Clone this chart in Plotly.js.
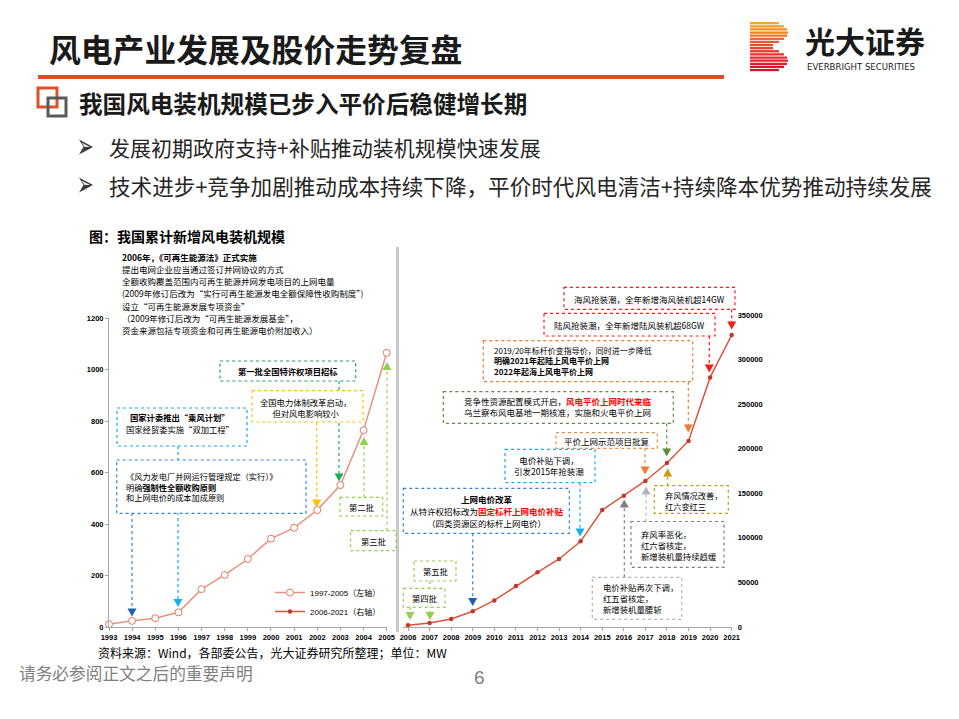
<!DOCTYPE html>
<html><head><meta charset="utf-8">
<script src="https://cdn.plot.ly/plotly-3.0.1.min.js"></script>
<style>html,body{margin:0;padding:0;background:#fff;}#chart{width:959px;height:719px;}</style>
</head><body><div id="chart"></div>
<script>
// ---- data ----
const yearsEarly = [1993,1994,1995,1996,1997,1998,1999,2000,2001,2002,2003,2004,2005];
const capEarly   = [12,25,35,58,148,203,265,344,386,455,552,765,1065];
const yearsLate  = [2006,2007,2008,2009,2010,2011,2012,2013,2014,2015,2016,2017,2018,2019,2020,2021];
const capLate    = [2000,4500,9000,17600,29800,46000,61400,76300,96100,131300,147300,163800,184000,208700,280000,327600];
const seriesNames = ['1997-2005（左轴）','2006-2021（右轴）'];
const leftTicks  = [0,200,400,600,800,1000,1200];
const rightTicks = [0,50000,100000,150000,200000,250000,300000,350000];

const W = 959, H = 719;
const CJK = '"Noto Sans CJK SC", "Noto Sans", sans-serif';
const NUM = '"Liberation Sans", Arial, sans-serif';
const COND = '"Liberation Sans Narrow", "DejaVu Sans Condensed", "Liberation Sans", sans-serif';
const X = v => v / W, Y = v => 1 - v / H;

const ann = [], shp = [];
function T(x, y, text, o) {
  o = o || {};
  ann.push({xref:'paper', yref:'paper', x:X(x), y:Y(y), text:text, showarrow:false,
    xanchor:o.xa || 'left', yanchor:'middle', align:o.xa === 'center' ? 'center' : 'left', borderpad:0,
    font:{family:o.f || CJK, size:o.s || 8.5, color:o.c || '#000', weight:o.w || 'normal'}});
}
function block(x, y, arr, o) { T(x, y, arr.join('<br>'), o); }
function lines(x, y0, dy, arr, o) { arr.forEach((t, i) => T(x, y0 + i * dy, t, o)); }
function rect(x0, y0, x1, y1, line, fill) {
  shp.push({type:'rect', xref:'paper', yref:'paper', x0:X(x0), x1:X(x1), y0:Y(y0), y1:Y(y1),
    line:line, fillcolor:fill, layer:'above'});
}
function poly(pts, fill, line) {
  shp.push({type:'path', xref:'paper', yref:'paper', layer:'above',
    path:'M' + pts.map(p => X(p[0]) + ',' + Y(p[1])).join(' L') + ' Z', fillcolor:fill, line:line || {width:0}});
}
function box(x0, y0, x1, y1, c) { rect(x0, y0, x1, y1, {color:c, width:1.2, dash:'dot'}, '#fff'); }
function link(x, y0, y1, c) {
  shp.push({type:'line', xref:'paper', yref:'paper', x0:X(x), x1:X(x), y0:Y(y0), y1:Y(y1),
    line:{color:c, width:1.2, dash:'dot'}, layer:'above'});
}
function tri(x, tip, dir, c) {
  const h = 8, w = 4.5, b = dir === 'down' ? tip - h : tip + h;
  poly([[x - w, b], [x + w, b], [x, tip]], c);
}
function arrow(x, y0, tip, c, ac) {
  const dir = tip > y0 ? 'down' : 'up';
  link(x, y0, dir === 'down' ? tip - 7 : tip + 7, c);
  tri(x, tip, dir, ac || c);
}
function bulletMark(y) {
  poly([[79, y - 7.5], [93, y], [79, y + 7.5], [83.5, y]], '#3a3a3a');
  poly([[81.5, y - 4.5], [90, y], [84.5, y]], '#e8e8e8');
}

// ---- colours ----
const LBLUE = '#12AEEF', BLUE = '#2E86D6', DBLUE = '#1F5FAF', GREEN = '#1FAA55', LGREEN = '#92D050',
      YEL = '#FFC000', ORA = '#ED7D31', RED = '#FF1A1A', DGREEN = '#5E8E3C', GOLD = '#C99A12',
      GRAY = '#7F7F7F', LGRAY = '#B5B5B5';

// ---- header ----
shp.push({type:'line', xref:'paper', yref:'paper', x0:X(38), x1:X(724), y0:Y(77), y1:Y(77), line:{color:'#D6502B', width:4}});
rect(38, 88, 57, 107, {color:'#E0502A', width:3}, 'rgba(0,0,0,0)');
rect(48, 98, 66, 116, {color:'#5A5A5A', width:3}, 'rgba(0,0,0,0)');
const stripeEnds = [779,784,787,788,787,784,779,773,773,779,784,787,788,787,784,779];
const stripeCols = ['#F9A61E','#F89A1F','#F78D20','#F68022','#F47424','#F26626','#F05A28','#EE4E2A','#EC432B','#EA392C','#E8302D','#E6282D','#E4212D','#E21B2C','#E0162B','#DE122A'];
stripeEnds.forEach((e, i) => {
  const y0 = 22 + i * 3.125;
  rect(750, y0, e, y0 + 2.3, {width:0}, stripeCols[i]);
});
T(48, 48, '风电产业发展及股价走势复盘', {s:31.8, w:'bold', c:'#1a1a1a'});
T(804, 40.5, '光大证券', {s:30, w:'bold', c:'#1a1a1a'});
T(806, 67, 'EVERBRIGHT SECURITIES', {f:COND, s:9.5, c:'#1a1a1a'});
T(78, 103, '我国风电装机规模已步入平价后稳健增长期', {s:23.6, w:'bold', c:'#1a1a1a'});
bulletMark(147);
T(108, 147, '发展初期政府支持+补贴推动装机规模快速发展', {s:21, c:'#262626'});
bulletMark(185);
T(108, 185, '技术进步+竞争加剧推动成本持续下降，平价时代风电清洁+持续降本优势推动持续发展', {s:21.6, c:'#262626'});
T(88, 236, '图：我国累计新增风电装机规模', {s:14, w:'bold'});
T(97, 652.7, '资料来源：Wind，各部委公告，光大证券研究所整理；单位：MW', {s:12});
T(18, 673, '请务必参阅正文之后的重要声明', {s:16.7, c:'#808080'});
T(479, 677, '6', {xa:'center', s:19, c:'#808080', f:NUM});

rect(396, 247, 399, 632, {width:0}, '#C9C9C9');

// ---- left panel notes ----
lines(120.7, 256.7, 12.2, [
  '<b>2006年，《可再生能源法》正式实施</b>',
  '提出电网企业应当通过签订并网协议的方式',
  '全额收购覆盖范围内可再生能源并网发电项目的上网电量',
  '(2009年修订后改为“实行可再生能源发电全额保障性收购制度”)',
  '设立“可再生能源发展专项资金”',
  '（2009年修订后改为“可再生能源发展基金”，',
  '资金来源包括专项资金和可再生能源电价附加收入）'], {s:8.5});

arrow(178, 446, 607, LBLUE);
arrow(132, 513, 616.5, BLUE, DBLUE);
arrow(339, 381, 481.5, GREEN);
arrow(316.7, 422, 507.5, YEL);
arrow(364, 497.3, 437, LGREEN);
arrow(387, 530.7, 362, LGREEN);

box(220, 361, 355.7, 381, GREEN);
T(288, 371, '<b>第一批全国特许权项目招标</b>', {xa:'center', s:8.3});
box(252, 390.7, 363, 422, YEL);
block(305, 407.2, ['全国电力体制改革启动，', '但对风电影响较小'], {xa:'center', s:8.3});
box(117, 408, 247, 446, LBLUE);
lines(180, 416.7, 12.6, ['<b>国家计委推出“乘风计划”</b>', '国家经贸委实施“双加工程”'], {xa:'center', s:8.3});
box(116.7, 460, 306, 513.3, BLUE);
block(125, 486.7, ['《风力发电厂并网运行管理规定（实行）》', '明确<b>强制性全额收购原则</b>', '和上网电价的成本加成原则'], {s:8.2});
box(340, 497.3, 382.7, 516, LGREEN);
T(361, 506.7, '第二批', {xa:'center', s:8.3});
box(350.7, 530.7, 396, 550.7, LGREEN);
T(373, 541, '第三批', {xa:'center', s:8.3});

// ---- right panel notes ----
arrow(731.7, 309.3, 329.5, RED);
arrow(709.3, 336, 372.5, RED);
arrow(688.3, 381.7, 432.5, ORA);
arrow(666.7, 423.3, 456.5, DGREEN);
arrow(645, 448.3, 474.5, ORA);
arrow(580, 482.7, 536.5, LBLUE);
arrow(472.7, 533.3, 606, BLUE, DBLUE);
arrow(430, 581, 620, LGREEN);
arrow(410, 607.3, 620, LGREEN);
arrow(646, 521.5, 486.5, LGRAY);
arrow(624.3, 577.3, 499.5, GRAY);
arrow(667.7, 485.7, 468.5, GOLD);

box(564, 287.3, 735, 309.3, RED);
T(649.5, 298.7, '海风抢装潮，全年新增海风装机超14GW', {xa:'center'});
box(544, 313.3, 715, 336, RED);
T(629.5, 324.7, '陆风抢装潮，全年新增陆风装机超68GW', {xa:'center'});
box(483.3, 340.7, 692.7, 381.7, ORA);
block(493.3, 361, ['2019/20年标杆价变指导价，同时进一步降低', '<b>明确2021年起陆上风电平价上网</b>', '<b>2022年起海上风电平价上网</b>'], {s:8});
box(443.3, 391.7, 673.3, 423.3, DGREEN);
block(463.3, 406.7, ['竞争性资源配置模式开启，<b><span style="color:#FF0000">风电平价上网时代来临</span></b>', '乌兰察布风电基地一期核准，实施和火电平价上网'], {s:8.5});
box(556, 432.7, 657.3, 448.3, '#F08A3C');
T(606.7, 440.5, '平价上网示范项目批复', {xa:'center'});
box(505, 449.3, 595, 482.7, LBLUE);
block(549, 465.5, ['电价补贴下调，', '引发2015年抢装潮'], {xa:'center'});
box(403.3, 488.3, 569.3, 533.3, BLUE);
lines(486.5, 499.3, 11.7, ['<b>上网电价改革</b>', '从特许权招标改为<b><span style="color:#FF0000">固定标杆上网电价补贴</span></b>', '（四类资源区的标杆上网电价）'], {xa:'center'});
box(654.3, 485.7, 728.3, 513.3, GOLD);
block(664.3, 500, ['弃风情况改善，', '红六变红三'], {s:8.2});
box(631, 521.5, 724, 567.3, GRAY);
block(640, 544.5, ['弃风率恶化，', '红六省核定，', '新增装机量持续趋缓'], {s:8.4});
box(592.3, 577.3, 681.7, 619.3, LGRAY);
block(601.7, 598, ['电价补贴再次下调，', '红五省核定，', '新增装机量腰斩'], {s:8.4});
box(414, 561, 456, 581, LGREEN);
T(435, 571, '第五批', {xa:'center', s:8.3});
box(403.3, 588.3, 445, 607.3, LGREEN);
T(424, 598, '第四批', {xa:'center', s:8.3});

// ---- traces ----
const tickFont = {family:NUM, size:7.5, color:'#000', weight:'bold'};
const traces = [
  {x:yearsEarly, y:capEarly, xaxis:'x', yaxis:'y', name:seriesNames[0], mode:'lines+markers', cliponaxis:false,
   line:{color:'#E8927C', width:1.5}, marker:{symbol:'circle', size:7, color:'#fff', line:{color:'#E07B62', width:1}}},
  {x:yearsLate, y:capLate, xaxis:'x2', yaxis:'y2', name:seriesNames[1], mode:'lines+markers', cliponaxis:false,
   line:{color:'#D9553A', width:1.5}, marker:{symbol:'circle', size:4.5, color:'#C0392B'}}
];
const axBase = {showgrid:false, zeroline:false, showline:true, linecolor:'#A6A6A6', linewidth:1,
  ticks:'outside', ticklen:3, tickcolor:'#A6A6A6', tickfont:tickFont, fixedrange:true, tickangle:0};
const layout = {
  width:W, height:H, margin:{l:0, r:0, t:0, b:0}, paper_bgcolor:'#fff', plot_bgcolor:'rgba(0,0,0,0)',
  showlegend:true,
  legend:{x:X(270), y:Y(578), xanchor:'left', yanchor:'top', bgcolor:'rgba(0,0,0,0)', itemwidth:30,
    font:{family:NUM + ', ' + CJK, size:8, color:'#000'}, tracegroupgap:0},
  xaxis:Object.assign({}, axBase, {domain:[X(109), X(386.7)], range:[1993, 2005], anchor:'y', tickmode:'array', tickvals:yearsEarly}),
  yaxis:Object.assign({}, axBase, {domain:[Y(627.3), Y(318)], range:[0, 1200], anchor:'x', tickmode:'array', tickvals:leftTicks}),
  xaxis2:Object.assign({}, axBase, {domain:[X(402.6), X(731.7)], range:[2005.75, 2021], anchor:'y2', tickmode:'array', tickvals:yearsLate}),
  yaxis2:Object.assign({}, axBase, {domain:[Y(627), Y(315)], range:[0, 350000], anchor:'x2', side:'right', showline:false,
    ticks:'', ticklabelstandoff:5, tickmode:'array', tickvals:rightTicks, tickformat:'d'}),
  annotations:ann, shapes:shp
};
Plotly.newPlot('chart', traces, layout, {displayModeBar:false, staticPlot:true});
</script></body></html>
